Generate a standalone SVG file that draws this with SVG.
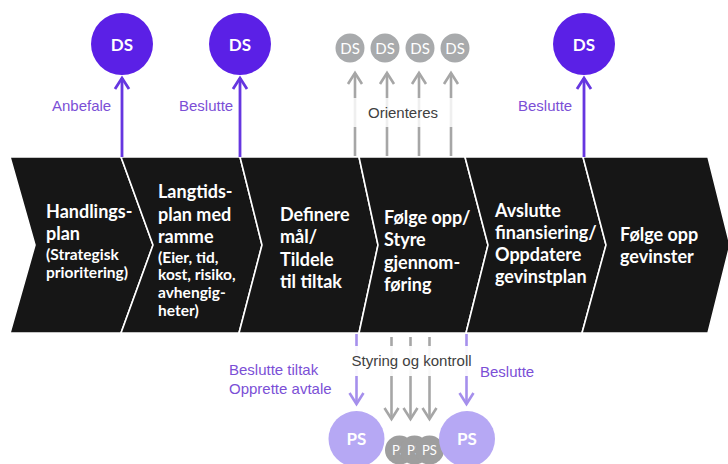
<svg xmlns="http://www.w3.org/2000/svg" width="728" height="464" viewBox="0 0 728 464">
<defs>
<style>
.stage{fill:#161616;stroke:#ffffff;stroke-width:1.6;stroke-linejoin:miter}
.big{font-family:Lato,"Liberation Sans",sans-serif;font-weight:700;font-size:18px;fill:#ffffff}
.small{font-family:Lato,"Liberation Sans",sans-serif;font-weight:700;font-size:15.5px;fill:#ffffff}
.lbl{font-family:"Liberation Sans",Arial,sans-serif;font-size:15px;fill:#7b4fd6}
.glbl{font-family:"Liberation Sans",Arial,sans-serif;font-size:15px;fill:#404040}
.ds{fill:#5b20e6}
.dsg{fill:#a8aaac}
.ps{fill:#b6a8f4}
.psg{fill:#9e9e9e}
.ct{font-family:Lato,"Liberation Sans",sans-serif;font-weight:700;font-size:17px;fill:#ffffff;text-anchor:middle}
.ctg{font-family:Lato,"Liberation Sans",sans-serif;font-weight:400;font-size:15px;fill:#ffffff;text-anchor:middle}
.ctp{font-family:Lato,"Liberation Sans",sans-serif;font-weight:400;font-size:13px;fill:#ffffff;text-anchor:middle}
.ap{stroke:#6636e0;stroke-width:2.8;fill:none}
.al{stroke:#a58fec;stroke-width:2.6;fill:none}
.ag{stroke:#a6a6a6;stroke-width:2.6;fill:none}
</style>
<marker id="mp" viewBox="0 0 16 16" refX="14" refY="8" markerWidth="16" markerHeight="16" markerUnits="userSpaceOnUse" orient="auto" overflow="visible">
<path d="M3,1 L14,8 L3,15" fill="none" stroke="#6636e0" stroke-width="2.8"/>
</marker>
<marker id="ml" viewBox="0 0 16 16" refX="14" refY="8" markerWidth="16" markerHeight="16" markerUnits="userSpaceOnUse" orient="auto" overflow="visible">
<path d="M3,1 L14,8 L3,15" fill="none" stroke="#a58fec" stroke-width="2.6"/>
</marker>
<marker id="mg" viewBox="0 0 16 16" refX="14" refY="8" markerWidth="16" markerHeight="16" markerUnits="userSpaceOnUse" orient="auto" overflow="visible">
<path d="M3,1 L14,8 L3,15" fill="none" stroke="#a6a6a6" stroke-width="2.6"/>
</marker>
</defs>

<g id="stage1">
<polygon class="stage" points="10,157 121,157 153,245 121,333 10,333 35,245"/>
<text class="big" x="46" y="217.5">Handlings-</text>
<text class="big" x="46" y="240">plan</text>
<text class="small" x="46" y="260">(Strategisk</text>
<text class="small" x="46" y="277.5">prioritering)</text>
</g>
<g id="stage2">
<polygon class="stage" points="121,157 240,157 262,245 239,333 121,333 153,245"/>
<text class="big" x="158" y="198.3">Langtids-</text>
<text class="big" x="158" y="220.6">plan med</text>
<text class="big" x="158" y="242.9">ramme</text>
<text class="small" x="158" y="262.6">(Eier, tid,</text>
<text class="small" x="158" y="280.3">kost, risiko,</text>
<text class="small" x="158" y="298">avhengig-</text>
<text class="small" x="158" y="315.7">heter)</text>
</g>
<g id="stage3">
<polygon class="stage" points="240,157 359,157 378,245 359,333 239,333 262,245"/>
<text class="big" x="280" y="221">Definere</text>
<text class="big" x="280" y="243.3">mål/</text>
<text class="big" x="280" y="265.6">Tildele</text>
<text class="big" x="280" y="288">til tiltak</text>
</g>
<g id="stage4">
<polygon class="stage" points="359,157 465,157 488,245 466,333 359,333 378,245"/>
<text class="big" x="384" y="224">Følge opp/</text>
<text class="big" x="384" y="246.3">Styre</text>
<text class="big" x="384" y="268.6">gjennom-</text>
<text class="big" x="384" y="291">føring</text>
</g>
<g id="stage5">
<polygon class="stage" points="465,157 583,157 606,245 582,333 466,333 488,245"/>
<text class="big" x="495" y="216.5">Avslutte</text>
<text class="big" x="495" y="238.8">finansiering/</text>
<text class="big" x="495" y="261.1">Oppdatere</text>
<text class="big" x="495" y="283.4">gevinstplan</text>
</g>
<g id="stage6">
<polygon class="stage" points="583,157 708,157 730,245 708,333 582,333 606,245"/>
<text class="big" x="620" y="240.7">Følge opp</text>
<text class="big" x="620" y="263">gevinster</text>
</g>

<g id="connectors">
<line class="ap" x1="122" y1="157" x2="122" y2="78" marker-end="url(#mp)"/>
<line class="ap" x1="240" y1="157" x2="240" y2="78" marker-end="url(#mp)"/>
<line class="ap" x1="584" y1="157" x2="584" y2="78" marker-end="url(#mp)"/>
<line class="ag" x1="355" y1="156" x2="355" y2="73" marker-end="url(#mg)"/>
<line class="ag" x1="387" y1="156" x2="387" y2="73" marker-end="url(#mg)"/>
<line class="ag" x1="419" y1="156" x2="419" y2="73" marker-end="url(#mg)"/>
<line class="ag" x1="451" y1="156" x2="451" y2="73" marker-end="url(#mg)"/>
<line class="al" x1="356.5" y1="334" x2="356.5" y2="404" marker-end="url(#ml)"/>
<line class="al" x1="466.5" y1="334" x2="466.5" y2="404" marker-end="url(#ml)"/>
<line class="ag" x1="391.5" y1="337" x2="391.5" y2="419" marker-end="url(#mg)"/>
<line class="ag" x1="410.5" y1="337" x2="410.5" y2="419" marker-end="url(#mg)"/>
<line class="ag" x1="429.5" y1="337" x2="429.5" y2="419" marker-end="url(#mg)"/>
</g>

<g id="labels">
<text class="lbl" x="52" y="111">Anbefale</text>
<text class="lbl" x="179" y="111">Beslutte</text>
<text class="lbl" x="518" y="111">Beslutte</text>
<rect x="343" y="98" width="122" height="29" fill="#ffffff" opacity="0.82"/>
<text class="glbl" x="368" y="118">Orienteres</text>
<rect x="346" y="346" width="130" height="30" fill="#ffffff" opacity="0.92"/>
<text class="glbl" x="351.5" y="366">Styring og kontroll</text>
<text class="lbl" x="229" y="374.5">Beslutte tiltak</text>
<text class="lbl" x="229" y="394">Opprette avtale</text>
<text class="lbl" x="480" y="377">Beslutte</text>
</g>

<g id="ds1"><circle class="ds" cx="122" cy="44" r="31"/><text class="ct" x="122" y="50.5">DS</text></g>
<g id="ds2"><circle class="ds" cx="240" cy="44" r="31"/><text class="ct" x="240" y="50.5">DS</text></g>
<g id="ds3"><circle class="ds" cx="584" cy="44" r="31"/><text class="ct" x="584" y="50.5">DS</text></g>
<g id="dsg1"><circle class="dsg" cx="350" cy="48" r="14.5"/><text class="ctg" x="350" y="53.5">DS</text></g>
<g id="dsg2"><circle class="dsg" cx="385" cy="48" r="14.5"/><text class="ctg" x="385" y="53.5">DS</text></g>
<g id="dsg3"><circle class="dsg" cx="420" cy="48" r="14.5"/><text class="ctg" x="420" y="53.5">DS</text></g>
<g id="dsg4"><circle class="dsg" cx="455" cy="48" r="14.5"/><text class="ctg" x="455" y="53.5">DS</text></g>

<g id="psg1"><circle class="psg" cx="399.5" cy="450" r="14.5"/><text class="ctp" x="399.5" y="455">PS</text></g>
<g id="psg2"><circle class="psg" cx="414.5" cy="450" r="14.5"/><text class="ctp" x="414.5" y="455">PS</text></g>
<g id="psg3"><circle class="psg" cx="429.5" cy="450" r="14.5"/><text class="ctp" x="429.5" y="455">PS</text></g>
<g id="ps1"><circle class="ps" cx="356.5" cy="439" r="28"/><text class="ct" x="356.5" y="445">PS</text></g>
<g id="ps2"><circle class="ps" cx="467" cy="439" r="28"/><text class="ct" x="467" y="445">PS</text></g>
</svg>
